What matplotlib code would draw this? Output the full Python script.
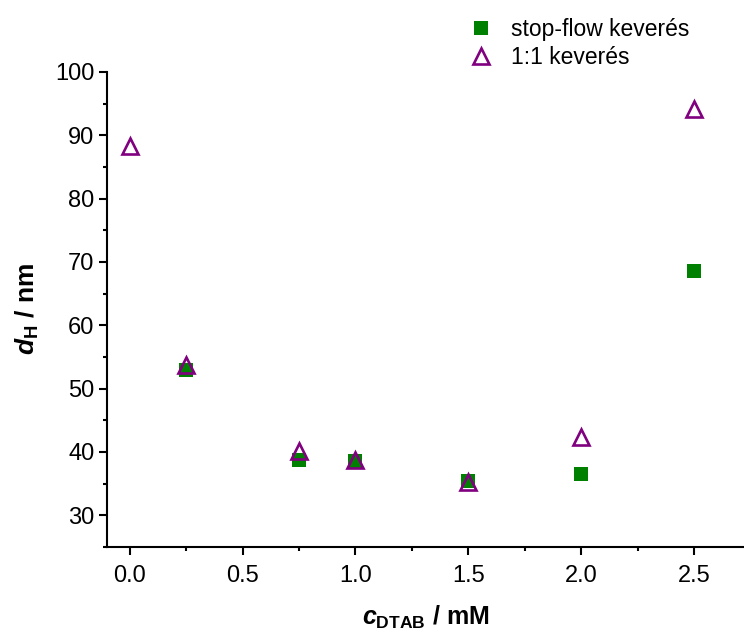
import matplotlib
matplotlib.use('Agg')
import matplotlib.pyplot as plt
from matplotlib.ticker import MultipleLocator

plt.rcParams['font.family'] = ['Liberation Sans', 'DejaVu Sans']
plt.rcParams['mathtext.fontset'] = 'custom'
plt.rcParams['mathtext.rm'] = 'Liberation Sans:bold'
plt.rcParams['mathtext.it'] = 'Liberation Sans:bold:italic'
plt.rcParams['mathtext.bf'] = 'Liberation Sans:bold'

# stop-flow mixing
sf_x = [0.25, 0.75, 1.0, 1.5, 2.0, 2.5]
sf_y = [53.0, 38.7, 38.5, 35.4, 36.6, 68.6]

# 1:1 mixing
mix_x = [0.0, 0.25, 0.75, 1.0, 1.5, 2.0, 2.5]
mix_y = [88.3, 53.8, 40.2, 38.8, 35.2, 42.4, 94.1]

fig = plt.figure(figsize=(7.44, 6.34), dpi=100)
ax = fig.add_axes([107 / 744, 1 - 547 / 634, 1 - 107 / 744, (547 - 72) / 634])

ax.plot(sf_x, sf_y, linestyle='none', marker='s', markersize=9.8,
        color='#008000', markeredgewidth=0, label='stop-flow keverés')
ax.plot(mix_x, mix_y, linestyle='none', marker='^', markersize=11,
        markerfacecolor='none', markeredgecolor='#800080', markeredgewidth=1.9,
        label='1:1 keverés')

ax.set_xlim(-0.1, 2.72)
ax.set_ylim(25, 100)
ax.xaxis.set_major_locator(MultipleLocator(0.5))
ax.xaxis.set_minor_locator(MultipleLocator(0.25))
ax.yaxis.set_minor_locator(MultipleLocator(5))
ax.set_yticks(range(30, 101, 10))
ax.xaxis.set_major_formatter(plt.FuncFormatter(lambda v, p: f'{v:.1f}'))

ax.spines['top'].set_visible(False)
ax.spines['right'].set_visible(False)
for s in ('left', 'bottom'):
    ax.spines[s].set_linewidth(1.5)
ax.tick_params(which='major', direction='out', length=6, width=1.5,
               labelsize=17, pad=3)
ax.tick_params(which='minor', direction='out', length=3, width=1.5)
ax.tick_params(axis='x', which='major', pad=7)

ax.set_xlabel(r'$c_{\rm DTAB}$ / mM', fontsize=18, fontweight='bold', labelpad=12)
ax.set_ylabel(r'$d_{\rm H}$ / nm', fontsize=19, fontweight='bold', labelpad=10)

ax.legend(loc='upper left', bbox_to_anchor=(447 / 744, 1.0 + 3 / 634), bbox_transform=fig.transFigure,
          frameon=False, fontsize=16.5, handletextpad=0.7, labelspacing=0.25,
          borderaxespad=0.5, handlelength=1.2, markerscale=1.0)

fig.savefig('out.png', dpi=100)
